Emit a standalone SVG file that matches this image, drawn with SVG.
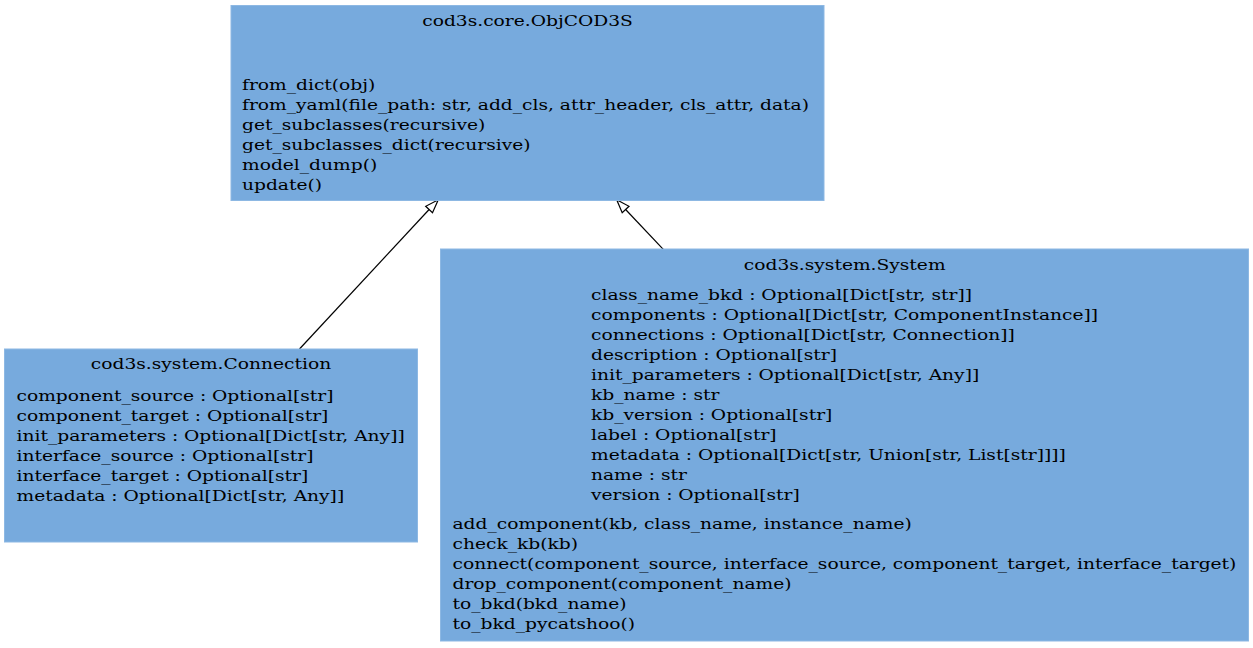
<svg xmlns="http://www.w3.org/2000/svg" width="1253" height="648" viewBox="0 0 1253 648">
<style>
  .box { fill: #77aadd; stroke: #8db8e3; stroke-width: 1; }
  .t { font-family: "DejaVu Serif", serif; font-size: 15px; fill: #000000; }
  .c { text-anchor: middle; }
  .edge { fill: none; stroke: #000000; stroke-width: 1.2; }
  .head { fill: #ffffff; stroke: #000000; stroke-width: 1.2; }
</style>
<rect width="1253" height="648" fill="#ffffff"/>
<g id="connectors">
  <path class="edge" d="M299.5,349 L429.1,209.5"/>
  <polygon class="head" points="438.3,199.8 432.5,212.7 425.7,206.3"/>
  <path class="edge" d="M663.3,249.3 L625.6,209.5"/>
  <polygon class="head" points="616.7,199.8 629,206.3 622.2,212.7"/>
</g>
<g id="ObjCOD3S">
  <rect class="box" x="231" y="5.5" width="593" height="195"/>
  <text class="t c" transform="translate(527.5,25.5) scale(1.244,1)">cod3s.core.ObjCOD3S</text>
  <text class="t" transform="translate(242,90) scale(1.244,1)">from_dict(obj)</text>
  <text class="t" transform="translate(242,110) scale(1.244,1)">from_yaml(file_path: str, add_cls, attr_header, cls_attr, data)</text>
  <text class="t" transform="translate(242,130) scale(1.244,1)">get_subclasses(recursive)</text>
  <text class="t" transform="translate(242,150) scale(1.244,1)">get_subclasses_dict(recursive)</text>
  <text class="t" transform="translate(242,170) scale(1.244,1)">model_dump()</text>
  <text class="t" transform="translate(242,190) scale(1.244,1)">update()</text>
</g>
<g id="Connection">
  <rect class="box" x="4.5" y="349" width="413" height="193"/>
  <text class="t c" transform="translate(211,369) scale(1.244,1)">cod3s.system.Connection</text>
  <text class="t" transform="translate(16.5,400.5) scale(1.244,1)">component_source : Optional[str]</text>
  <text class="t" transform="translate(16.5,420.5) scale(1.244,1)">component_target : Optional[str]</text>
  <text class="t" transform="translate(16.5,440.5) scale(1.244,1)">init_parameters : Optional[Dict[str, Any]]</text>
  <text class="t" transform="translate(16.5,460.5) scale(1.244,1)">interface_source : Optional[str]</text>
  <text class="t" transform="translate(16.5,480.5) scale(1.244,1)">interface_target : Optional[str]</text>
  <text class="t" transform="translate(16.5,500.5) scale(1.244,1)">metadata : Optional[Dict[str, Any]]</text>
</g>
<g id="System">
  <rect class="box" x="440.5" y="249" width="808" height="392"/>
  <text class="t c" transform="translate(844.7,270) scale(1.244,1)">cod3s.system.System</text>
  <text class="t" transform="translate(591,300) scale(1.244,1)">class_name_bkd : Optional[Dict[str, str]]</text>
  <text class="t" transform="translate(591,320) scale(1.244,1)">components : Optional[Dict[str, ComponentInstance]]</text>
  <text class="t" transform="translate(591,340) scale(1.244,1)">connections : Optional[Dict[str, Connection]]</text>
  <text class="t" transform="translate(591,360) scale(1.244,1)">description : Optional[str]</text>
  <text class="t" transform="translate(591,380) scale(1.244,1)">init_parameters : Optional[Dict[str, Any]]</text>
  <text class="t" transform="translate(591,400) scale(1.244,1)">kb_name : str</text>
  <text class="t" transform="translate(591,420) scale(1.244,1)">kb_version : Optional[str]</text>
  <text class="t" transform="translate(591,440) scale(1.244,1)">label : Optional[str]</text>
  <text class="t" transform="translate(591,460) scale(1.244,1)">metadata : Optional[Dict[str, Union[str, List[str]]]]</text>
  <text class="t" transform="translate(591,480) scale(1.244,1)">name : str</text>
  <text class="t" transform="translate(591,500) scale(1.244,1)">version : Optional[str]</text>
  <text class="t" transform="translate(452.5,529) scale(1.244,1)">add_component(kb, class_name, instance_name)</text>
  <text class="t" transform="translate(452.5,549) scale(1.244,1)">check_kb(kb)</text>
  <text class="t" transform="translate(452.5,569) scale(1.244,1)">connect(component_source, interface_source, component_target, interface_target)</text>
  <text class="t" transform="translate(452.5,589) scale(1.244,1)">drop_component(component_name)</text>
  <text class="t" transform="translate(452.5,609) scale(1.244,1)">to_bkd(bkd_name)</text>
  <text class="t" transform="translate(452.5,629) scale(1.244,1)">to_bkd_pycatshoo()</text>
</g>
</svg>
